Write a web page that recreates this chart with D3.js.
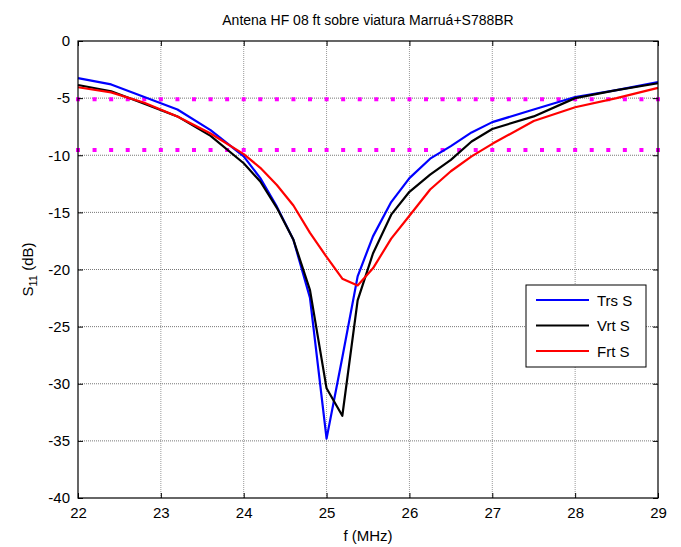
<!DOCTYPE html>
<html>
<head>
<meta charset="utf-8">
<script src="https://cdn.jsdelivr.net/npm/d3@7"></script>
<style>
  body { margin: 0; background: #fff; }
  svg { font-family: "Liberation Sans", Arial, sans-serif; }
</style>
</head>
<body>
<div id="chart"></div>
<script>
// frequency points (MHz)
const freq = [22, 22.4, 22.8, 23.2, 23.6, 24.0, 24.2, 24.4, 24.6, 24.8, 25.0, 25.19, 25.375, 25.56, 25.78, 26.0, 26.25, 26.5, 26.75, 27.0, 27.5, 28.0, 28.5, 29.0];
const trsS = [-3.25, -3.8, -4.9, -6.0, -7.8, -10.1, -12.0, -14.5, -17.4, -22.5, -34.8, -27.7, -20.6, -17.1, -14.1, -12.0, -10.3, -9.2, -8.0, -7.1, -6.0, -4.9, -4.3, -3.6];
const vrtS = [-3.85, -4.4, -5.5, -6.6, -8.3, -10.7, -12.3, -14.6, -17.4, -21.8, -30.4, -32.8, -22.7, -18.6, -15.2, -13.2, -11.7, -10.4, -8.8, -7.7, -6.6, -5.0, -4.3, -3.7];
const frtS = [-4.05, -4.5, -5.4, -6.6, -8.1, -9.9, -11.1, -12.6, -14.4, -16.8, -18.9, -20.8, -21.4, -19.9, -17.3, -15.3, -13.0, -11.4, -10.1, -9.0, -7.0, -5.8, -5.0, -4.1];
const seriesNames = ["Trs S", "Vrt S", "Frt S"];
const seriesColors = ["#0000ff", "#000000", "#ff0000"];
// reference levels (dB)
const refLevels = [-5.1, -9.54];
const xTicks = [22, 23, 24, 25, 26, 27, 28, 29];
const yTicks = [0, -5, -10, -15, -20, -25, -30, -35, -40];

const W = 681, H = 547;
const pLeft = 78, pRight = 658, pTop = 41, pBottom = 498;

const svg = d3.select("#chart").append("svg")
  .attr("width", W).attr("height", H);

const x = d3.scaleLinear().domain([22, 29]).range([pLeft, pRight]);
const y = d3.scaleLinear().domain([-40, 0]).range([pBottom, pTop]);

// grid
svg.append("g").selectAll("line").data(xTicks.slice(1, -1)).join("line")
  .attr("x1", d => x(d)).attr("x2", d => x(d))
  .attr("y1", pTop).attr("y2", pBottom)
  .attr("stroke", "#999").attr("stroke-width", 1).attr("stroke-dasharray", "1,1");
svg.append("g").selectAll("line").data(yTicks.slice(1, -1)).join("line")
  .attr("x1", pLeft).attr("x2", pRight)
  .attr("y1", d => y(d)).attr("y2", d => y(d))
  .attr("stroke", "#777").attr("stroke-width", 1).attr("stroke-dasharray", "1,1");

// magenta reference dots
const dotF = d3.range(0, 36).map(i => 22 + i * 0.2);
refLevels.forEach(lv => {
  svg.append("g").selectAll("rect").data(dotF).join("rect")
    .attr("x", d => x(d) - 2).attr("y", y(lv) - 2)
    .attr("width", 4).attr("height", 4)
    .attr("fill", "#ff00ff");
});

// curves
const line = d3.line().x(d => x(d[0])).y(d => y(d[1]));
[trsS, vrtS, frtS].forEach((vals, i) => {
  svg.append("path")
    .datum(freq.map((f, j) => [f, vals[j]]))
    .attr("d", line)
    .attr("fill", "none")
    .attr("stroke", seriesColors[i])
    .attr("stroke-width", 2.2)
    .attr("stroke-linejoin", "round");
});

// axes (MATLAB style: ticks inside on all sides)
const plain = d => String(d);
svg.append("g").attr("transform", `translate(0,${pBottom})`)
  .call(d3.axisBottom(x).tickValues(xTicks).tickSize(-5).tickPadding(9).tickFormat(plain))
  .call(g => g.select(".domain").remove());
svg.append("g").attr("transform", `translate(0,${pTop})`)
  .call(d3.axisTop(x).tickValues(xTicks).tickSize(-5).tickFormat(""))
  .call(g => g.select(".domain").remove());
svg.append("g").attr("transform", `translate(${pLeft},0)`)
  .call(d3.axisLeft(y).tickValues(yTicks).tickSize(-5).tickPadding(8).tickFormat(plain))
  .call(g => g.select(".domain").remove());
svg.append("g").attr("transform", `translate(${pRight},0)`)
  .call(d3.axisRight(y).tickValues(yTicks).tickSize(-5).tickFormat(""))
  .call(g => g.select(".domain").remove());
svg.selectAll(".tick text").attr("font-size", 15).attr("fill", "#000")
  .attr("font-family", "Liberation Sans, Arial, sans-serif");
svg.selectAll(".tick line").attr("stroke", "#000");

svg.append("rect")
  .attr("x", pLeft).attr("y", pTop)
  .attr("width", pRight - pLeft).attr("height", pBottom - pTop)
  .attr("fill", "none").attr("stroke", "#000").attr("stroke-width", 1.2);

// title & labels
svg.append("text").attr("x", (pLeft + pRight) / 2).attr("y", 25)
  .attr("text-anchor", "middle").attr("font-size", 14)
  .text("Antena HF 08 ft sobre viatura Marruá+S788BR");
svg.append("text").attr("x", (pLeft + pRight) / 2).attr("y", 541)
  .attr("text-anchor", "middle").attr("font-size", 15)
  .text("f (MHz)");
const yl = svg.append("text")
  .attr("transform", `translate(33,${(pTop + pBottom) / 2}) rotate(-90)`)
  .attr("text-anchor", "middle").attr("font-size", 15);
yl.append("tspan").text("S");
yl.append("tspan").attr("font-size", 11).attr("dy", 4).text("11");
yl.append("tspan").attr("dy", -4).text(" (dB)");

// legend
const lg = svg.append("g").attr("transform", "translate(526,285)");
lg.append("rect").attr("width", 120).attr("height", 82)
  .attr("fill", "#fff").attr("stroke", "#000").attr("stroke-width", 1);
seriesNames.forEach((n, i) => {
  const yy = 15 + i * 25.5;
  lg.append("line").attr("x1", 10).attr("x2", 63).attr("y1", yy).attr("y2", yy)
    .attr("stroke", seriesColors[i]).attr("stroke-width", 2.2);
  lg.append("text").attr("x", 71).attr("y", yy + 5.5).attr("font-size", 15).text(n);
});
</script>
</body>
</html>
